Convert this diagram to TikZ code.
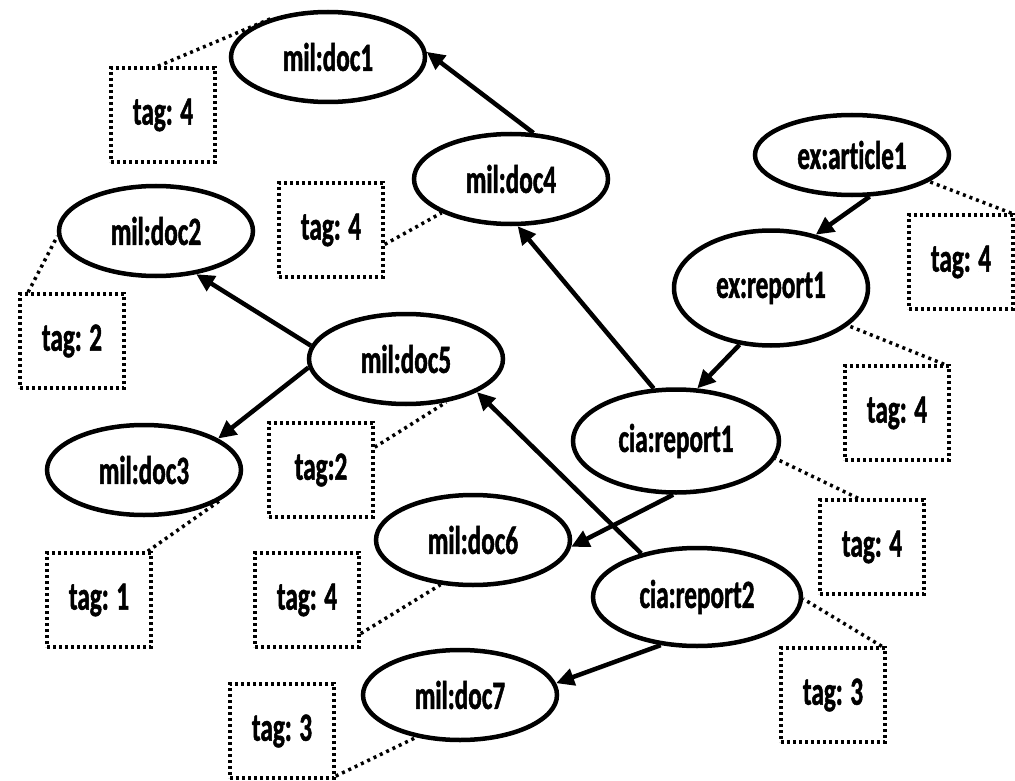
\documentclass[tikz,border=0pt]{standalone}
\usepackage{fontspec}
\newfontfamily\lblfont{Carlito}[FakeStretch=0.63, FakeBold=1.2, Ligatures=NoCommon]
\usetikzlibrary{shapes.geometric,arrows.meta}
\begin{document}
\begin{tikzpicture}[x=1pt, y=-1pt,
                    every node/.style={font=\lblfont\bfseries\fontsize{40}{44}\selectfont},
                    res/.style={ellipse, draw, line width=4.5pt, inner sep=0pt,
                                minimum width=194pt, minimum height=90pt},
                    tagbox/.style={draw, line width=3.5pt, dash pattern=on 3pt off 3pt,
                                   inner sep=0pt, minimum width=104pt, minimum height=94pt},
                    link/.style={line width=4.5pt, -{Triangle[length=18pt,width=17pt]}},
                    tagline/.style={line width=3.5pt, dash pattern=on 3pt off 4pt}]
      \useasboundingbox (0,0) rectangle (1015,781);
      % resources
      \node[res] (mil_doc1) at (328,57) {mil:doc1};
      \node[res] (mil_doc4) at (511,179) {mil:doc4};
      \node[res] (mil_doc2) at (156,231) {mil:doc2};
      \node[res] (mil_doc5) at (406,359) {mil:doc5};
      \node[res] (mil_doc3) at (144,470) {mil:doc3};
      \node[res] (mil_doc6) at (473,540) {mil:doc6};
      \node[res] (mil_doc7) at (460,695) {mil:doc7};
      \node[res, minimum height=80pt] (ex_article1) at (852,155) {ex:article1};
      \node[res, minimum height=115pt] (ex_report1) at (771,288) {ex:report1};
      \node[res, minimum width=206pt, minimum height=103pt] (cia_report1) at (676,441) {cia:report1};
      \node[res, minimum width=208pt, minimum height=98pt] (cia_report2) at (697,597) {cia:report2};
      % tags
      \node[tagbox] (tag_doc1) at (163,115) {tag: 4};
      \node[tagbox] (tag_doc4) at (331,230) {tag: 4};
      \node[tagbox] (tag_doc2) at (72,341) {tag: 2};
      \node[tagbox] (tag_doc5) at (321,470) {tag:2};
      \node[tagbox] (tag_doc3) at (99,600) {tag: 1};
      \node[tagbox] (tag_doc6) at (307,600) {tag: 4};
      \node[tagbox] (tag_doc7) at (282,731) {tag: 3};
      \node[tagbox] (tag_ex_article1) at (961,262) {tag: 4};
      \node[tagbox] (tag_ex_report1) at (897,413) {tag: 4};
      \node[tagbox] (tag_cia_report1) at (872,547) {tag: 4};
      \node[tagbox] (tag_cia_report2) at (833,695) {tag: 3};
      % links
      \draw[link] (mil_doc4.64) -- (mil_doc1.3);
      \draw[link] (cia_report1.113) -- (mil_doc4.278);
      \draw[link] (ex_article1.-67) -- (ex_report1.50);
      \draw[link] (ex_report1.241) -- (cia_report1.68);
      \draw[link] (mil_doc5.172) -- (mil_doc2.-47);
      \draw[link] (mil_doc5.185) -- (mil_doc3.23);
      \draw[link] (cia_report2.142) -- (mil_doc5.-25);
      \draw[link] (cia_report1.267) -- (mil_doc6.-4);
      \draw[link] (cia_report2.233) -- (mil_doc7.7);
      % tag lines
      \draw[tagline] (tag_doc1.96) -- (mil_doc1.144);
      \draw[tagline] (tag_doc4.-15) -- (mil_doc4.206);
      \draw[tagline] (tag_doc2.132) -- (mil_doc2.183);
      \draw[tagline] (tag_doc5.23) -- (mil_doc5.313);
      \draw[tagline] (tag_doc3.45) -- (mil_doc3.339);
      \draw[tagline] (tag_doc6.-32) -- (mil_doc6.234);
      \draw[tagline] (tag_doc7.-40) -- (mil_doc7.224);
      \draw[tagline] (tag_ex_article1.44) -- (ex_article1.-19);
      \draw[tagline] (tag_ex_report1.46) -- (ex_report1.-26);
      \draw[tagline] (tag_cia_report1.106) -- (cia_report1.-10);
      \draw[tagline] (tag_cia_report2.45) -- (cia_report2.-1);
    \end{tikzpicture}
\end{document}
